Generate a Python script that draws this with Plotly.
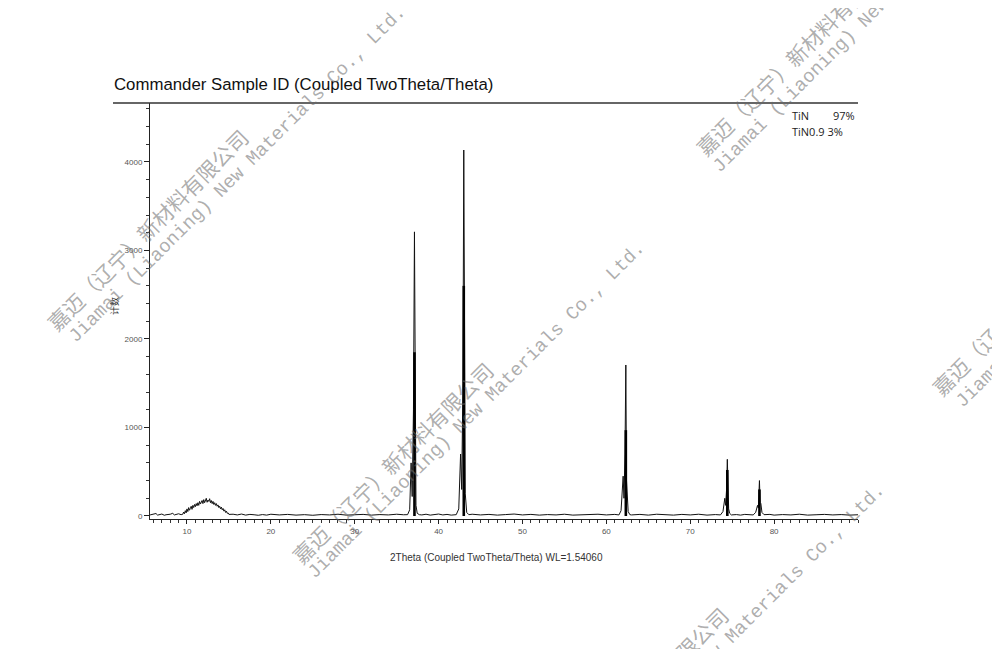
import plotly.graph_objects as go

# ---- data ----
two_theta = [
    5.6, 6.0, 6.3, 6.5, 7.0, 7.3, 7.5, 8.0, 8.3, 8.5, 9.0, 9.3,
    9.5, 9.6, 9.7, 9.8, 9.9, 10.0, 10.1, 10.2, 10.3, 10.4, 10.5, 10.6, 10.7, 10.8, 10.9,
    11.0, 11.1, 11.2, 11.3, 11.4, 11.5, 11.6, 11.7, 11.8, 11.9, 12.0, 12.1, 12.2, 12.3,
    12.4, 12.5, 12.6, 12.7, 12.8, 12.9, 13.0, 13.1, 13.2, 13.3, 13.4, 13.5, 13.6, 13.7,
    13.8, 13.9, 14.0, 14.1, 14.2, 14.3, 14.4, 14.5, 14.6, 14.7, 14.8, 14.9, 15.0,
    15.5, 16.0, 16.5, 17.0, 17.5, 18.0, 18.5, 19.0, 19.5, 20.0, 21.0, 22.0, 23.0, 24.0,
    25.0, 26.0, 27.0, 28.0, 29.0, 30.0, 31.0, 32.0, 33.0, 34.0, 35.0, 35.8,
    36.30, 36.55, 36.72, 36.85, 37.00, 37.12, 37.20, 37.30, 37.45, 37.7,
    38.0, 38.5, 39.0, 39.5, 40.0, 40.5, 41.0, 41.5, 42.0,
    42.10, 42.40, 42.62, 42.75, 42.90, 43.00, 43.08, 43.18, 43.35, 43.6,
    44.0, 45.0, 46.0, 47.0, 48.0, 49.0, 50.0, 51.0, 52.0, 53.0, 54.0, 55.0, 56.0, 57.0,
    58.0, 59.0, 60.0, 61.0,
    61.50, 61.75, 62.00, 62.10, 62.22, 62.32, 62.40, 62.48, 62.60, 62.8,
    63.0, 64.0, 65.0, 66.0, 67.0, 68.0, 69.0, 70.0, 71.0, 72.0, 73.0,
    73.60, 73.90, 74.12, 74.22, 74.33, 74.42, 74.50, 74.58, 74.70, 74.9,
    75.5, 76.0, 76.5, 77.0,
    77.50, 77.80, 78.02, 78.12, 78.25, 78.33, 78.42, 78.55, 78.8,
    79.5, 80.0, 81.0, 82.0, 83.0, 84.0, 85.0, 86.0, 87.0, 88.0, 89.0, 90.0,
]
counts = [
    12, 18, 28, 10, 22, 8, 14, 20, 30, 12, 25, 15,
    20, 45, 25, 60, 35, 80, 50, 95, 65, 85, 110, 75, 120, 95, 130,
    105, 140, 115, 150, 120, 165, 135, 150, 175, 140, 185, 150, 170, 200,
    155, 180, 165, 195, 150, 175, 140, 165, 130, 150, 120, 140, 110, 125,
    95, 110, 80, 100, 70, 85, 55, 70, 40, 55, 30, 35, 18,
    20, 12, 22, 10, 18, 14, 8, 16, 10, 20, 12, 18, 10, 15,
    8, 16, 12, 20, 10, 14, 18, 10, 16, 12, 20, 14,
    15, 70, 600, 220, 1200, 3210, 650, 120, 30, 15,
    12, 20, 10, 16, 22, 12, 18, 10, 14,
    15, 80, 700, 300, 1500, 4135, 900, 250, 40, 15,
    20, 12, 18, 10, 16, 22, 12, 18, 10, 16, 12, 20, 10, 16,
    14, 20, 12, 18,
    12, 60, 450, 200, 700, 1706, 400, 180, 50, 15,
    12, 18, 10, 20, 14, 10, 18, 12, 20, 10, 16,
    12, 50, 200, 120, 300, 640, 200, 80, 30, 12,
    16, 10, 18, 12,
    12, 40, 120, 90, 400, 150, 140, 40, 15,
    18, 10, 16, 12, 20, 10, 14, 18, 12, 16, 10, 14,
]

# TiN reference pattern sticks
ref_pos = [37.12, 43.00, 62.32, 74.42, 78.25]
ref_height = [1850, 2600, 970, 520, 300]

x_ticks = [10, 20, 30, 40, 50, 60, 70, 80]
y_ticks = [0, 1000, 2000, 3000, 4000]

title_text = "Commander Sample ID (Coupled TwoTheta/Theta)"
x_title = "2Theta (Coupled TwoTheta/Theta) WL=1.54060"
y_title = "计数"
phase_lines = [("TiN", "97%"), ("TiN0.9 3%", "")]

wm_cn = "嘉迈（辽宁）新材料有限公司"
wm_en = "Jiamai (Liaoning) New Materials Co., Ltd."

# ---- figure (page has an 8px body margin) ----
OFF = 8
L, R, T, B = 150, 858, 103, 519
W, H = 1000 - OFF, 649 - OFF


def px(x):
    return (x - L) / (R - L)


def py(y):
    return (B - y) / (B - T)


stick_x, stick_y = [], []
for p, h in zip(ref_pos, ref_height):
    stick_x += [p, p, None]
    stick_y += [0, h, None]

fig = go.Figure()
fig.add_trace(go.Scatter(x=two_theta, y=counts, mode="lines",
                         line=dict(color="#111111", width=1), showlegend=False,
                         hoverinfo="skip"))
fig.add_trace(go.Scatter(x=stick_x, y=stick_y, mode="lines",
                         line=dict(color="#000000", width=2.6), showlegend=False,
                         hoverinfo="skip"))

tickfont = dict(family="Liberation Sans Narrow, Liberation Sans, Arial", size=8, color="#555555")

fig.update_layout(
    width=W, height=H,
    margin=dict(l=L - OFF, r=W - (R - OFF), t=T - OFF, b=H - (B - OFF), pad=0),
    paper_bgcolor="white", plot_bgcolor="white",
    xaxis=dict(range=[5.59, 90], showline=True, linecolor="#222222", linewidth=1,
               showgrid=False, zeroline=False, ticks="outside", ticklen=4,
               tickcolor="#222222", tickvals=x_ticks, tickfont=tickfont,
               minor=dict(dtick=1, tick0=0, ticks="outside", ticklen=3, tickcolor="#333333")),
    yaxis=dict(range=[-34, 4666], showline=True, linecolor="#222222", linewidth=1,
               showgrid=False, zeroline=False, ticks="outside", ticklen=5,
               tickcolor="#222222", tickvals=y_ticks, tickfont=tickfont,
               minor=dict(dtick=200, tick0=0, ticks="outside", ticklen=3, tickcolor="#333333")),
)

fig.add_shape(type="line", xref="paper", yref="paper", x0=px(113), x1=1.0, y0=1.0, y1=1.0,
              line=dict(color="#333333", width=1.5))

ann = []
ann.append(dict(text=title_text, x=px(112), y=py(84), xanchor="left", yanchor="middle",
                font=dict(family="Liberation Sans, Arial", size=16.8, color="#111111")))
ann.append(dict(text=x_title, x=px(496), y=py(557), xanchor="center", yanchor="middle",
                font=dict(family="Liberation Sans Narrow, Liberation Sans, Arial", size=10, color="#333333")))
ann.append(dict(text=y_title, x=px(114), y=py(306), xanchor="center", yanchor="middle",
                textangle=-90, font=dict(family="Noto Sans CJK SC", size=9, color="#333333")))
leg_y = [115, 131]
for (a, b), yy in zip(phase_lines, leg_y):
    ann.append(dict(text=a, x=px(790), y=py(yy), xanchor="left", yanchor="middle",
                    font=dict(family="Open Sans, Arial", size=11, color="#222222")))
    if b:
        ann.append(dict(text=b, x=px(857), y=py(yy), xanchor="right", yanchor="middle",
                        font=dict(family="Open Sans, Arial", size=11, color="#222222")))

# watermarks (pixel centres in the reference picture)
wm_color = "rgba(105,105,105,0.55)"
cn_centres = [(147, 230), (392, 463), (796, 55), (1032, 295), (627, 708)]
en_centres = [(237, 175), (476, 411), (881, 5), (1124, 240), (716, 653)]
for cx, cy in cn_centres:
    ann.append(dict(text=wm_cn, x=px(cx), y=py(cy), xanchor="center", yanchor="middle",
                    textangle=-45, font=dict(family="Noto Sans CJK SC", size=21, color=wm_color)))
for cx, cy in en_centres:
    ann.append(dict(text=wm_en, x=px(cx), y=py(cy), xanchor="center", yanchor="middle",
                    textangle=-45, font=dict(family="Liberation Mono", size=19, color=wm_color)))

for a in ann:
    a.update(xref="paper", yref="paper", showarrow=False)
fig.update_layout(annotations=ann)

fig.write_html("out.html")
